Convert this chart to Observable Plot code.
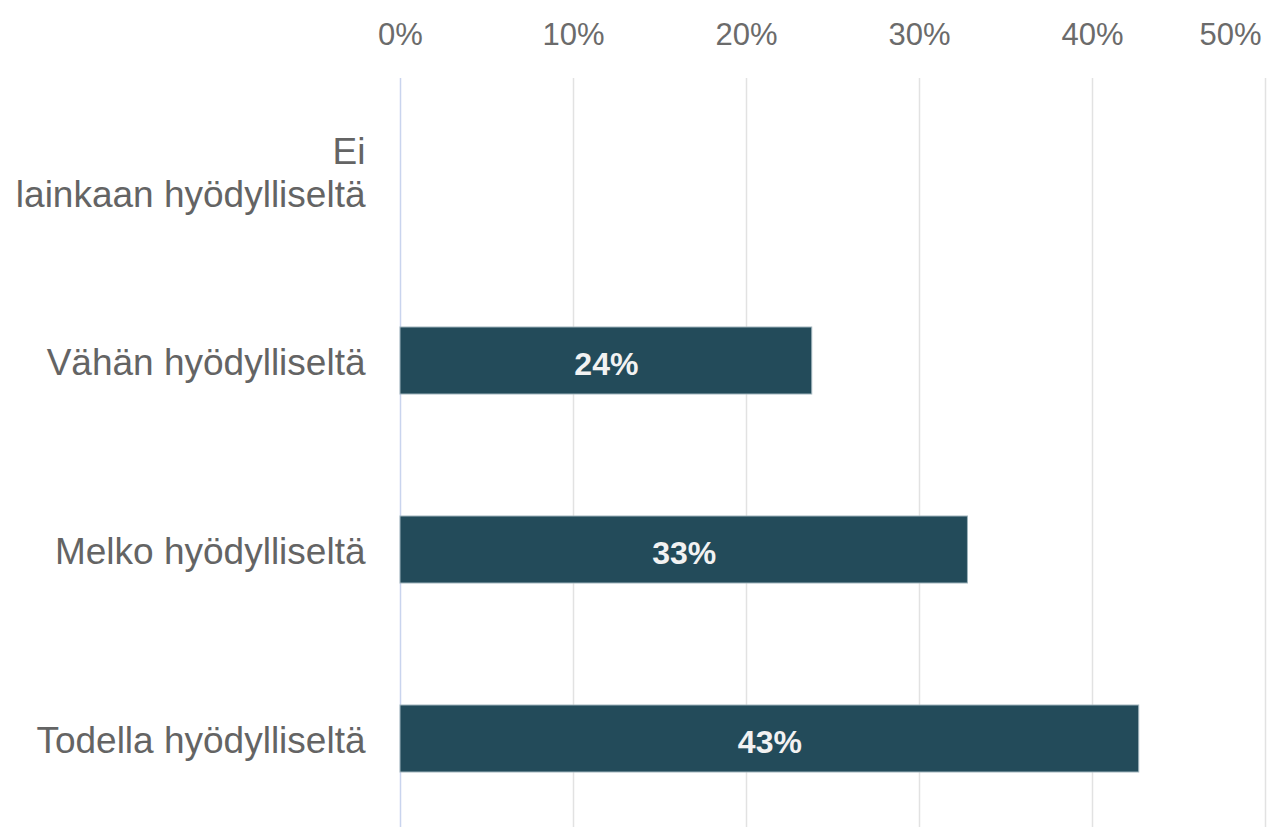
<!DOCTYPE html>
<html>
<head>
<meta charset="utf-8">
<script src="https://cdn.jsdelivr.net/npm/d3@7"></script>
<script src="https://cdn.jsdelivr.net/npm/@observablehq/plot@0.6"></script>
<style>
  html, body { margin: 0; padding: 0; background: #fff; }
  #chart svg { display: block; }
</style>
</head>
<body>
<div id="chart"></div>
<script>
const categories = ["Ei lainkaan hyödylliseltä", "Vähän hyödylliseltä", "Melko hyödylliseltä", "Todella hyödylliseltä"];
const categoryLabels = ["Ei\nlainkaan hyödylliseltä", "Vähän hyödylliseltä", "Melko hyödylliseltä", "Todella hyödylliseltä"];
const values = [0, 23.8, 32.8, 42.7];
const valueLabels = ["", "24%", "33%", "43%"];
const xTicks = [0, 10, 20, 30, 40, 50];
const xTickLabels = ["0%", "10%", "20%", "30%", "40%", "50%"];

const rows = categories.map((c, i) => ({category: c, value: values[i], label: valueLabels[i]}));
const labelOf = new Map(categories.map((c, i) => [c, categoryLabels[i]]));
const tickLabelOf = new Map(xTicks.map((t, i) => [t, xTickLabels[i]]));

const font = "'Liberation Sans', Arial, sans-serif";

const chart = Plot.plot({
  width: 1268,
  height: 827,
  marginLeft: 400,
  marginRight: 3,
  marginTop: 78,
  marginBottom: 0,
  style: {fontFamily: font, background: "#fff"},
  x: {domain: [0, 50], axis: null},
  y: {domain: categories, paddingInner: 0.646, paddingOuter: 0.3, align: 0.525, axis: null},
  marks: [
    Plot.gridX(xTicks.filter(t => t > 0), {stroke: "#e2e2e2", strokeOpacity: 1, strokeWidth: 1.5}),
    Plot.ruleX([0], {stroke: "#c9d4ee", strokeWidth: 1.5}),
    Plot.axisX(xTicks.filter(t => t < 50), {anchor: "top", tickSize: 0, tickPadding: 0, dy: -34, fontSize: 31, fill: "#6b6b6b",
      tickFormat: t => tickLabelOf.get(t), label: null}),
    Plot.axisX(xTicks.filter(t => t === 50), {anchor: "top", tickSize: 0, tickPadding: 0, dy: -34, dx: -4, textAnchor: "end", fontSize: 31, fill: "#6b6b6b",
      tickFormat: t => tickLabelOf.get(t), label: null}),
    Plot.axisY({anchor: "left", tickSize: 0, tickPadding: 35, fontSize: 37, fill: "#646464", lineHeight: 1.16,
      tickFormat: c => labelOf.get(c), label: null}),
    Plot.barX(rows, {filter: d => d.value > 0, x: "value", y: "category", fill: "#234b5a", stroke: "#9fb4bc", strokeWidth: 1}),
    Plot.text(rows, {filter: d => d.value > 0, x: d => d.value / 2, y: "category", text: "label", fill: "#f2f2f2",
      fontSize: 32, fontWeight: 600, dy: 4})
  ]
});
document.getElementById("chart").appendChild(chart);
</script>
</body>
</html>
